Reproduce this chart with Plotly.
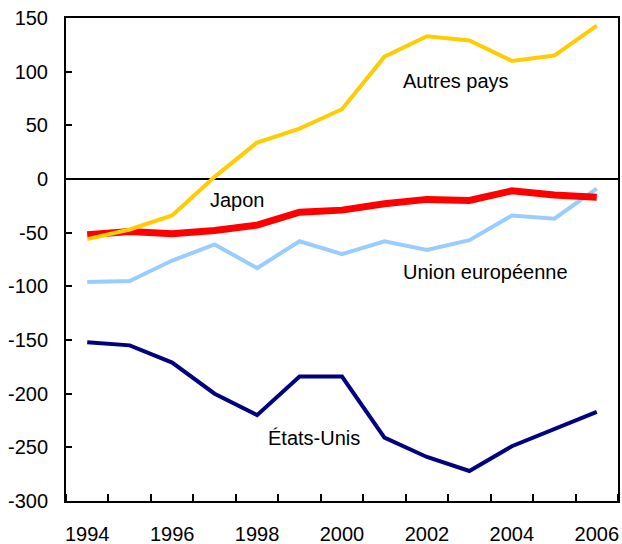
import plotly.graph_objects as go

years = list(range(1994, 2007))
autres_pays = [-56, -47, -34, 2, 34, 47, 65, 114, 133, 129, 110, 115, 143]
japon = [-52, -49, -51, -48, -43, -31, -29, -23, -19, -20, -11, -15, -17]
union_europeenne = [-96, -95, -76, -61, -83, -58, -70, -58, -66, -57, -34, -37, -9]
etats_unis = [-152, -155, -171, -200, -220, -184, -184, -241, -259, -272, -249, -233, -217]

x_tick_labels = ["1994", "1996", "1998", "2000", "2002", "2004", "2006"]
x_tick_vals = [1994, 1996, 1998, 2000, 2002, 2004, 2006]
y_tick_vals = [150, 100, 50, 0, -50, -100, -150, -200, -250, -300]
y_tick_labels = ["150", "100", "50", "0", "-50", "-100", "-150", "-200", "-250", "-300"]

FONT = "Liberation Sans, Arial, Helvetica, sans-serif"

fig = go.Figure()
fig.add_trace(go.Scatter(x=years, y=etats_unis, mode="lines",
                         line=dict(color="#000080", width=4), name="États-Unis"))
fig.add_trace(go.Scatter(x=years, y=union_europeenne, mode="lines",
                         line=dict(color="#99CCFF", width=4), name="Union européenne"))
fig.add_trace(go.Scatter(x=years, y=japon, mode="lines",
                         line=dict(color="#FF0000", width=7), name="Japon"))
fig.add_trace(go.Scatter(x=years, y=autres_pays, mode="lines",
                         line=dict(color="#FFCC00", width=4), name="Autres pays"))

annots = [
    ("Autres pays", 2002.69, 91),
    ("Japon", 1997.55, -20),
    ("Union européenne", 2003.39, -87),
    ("États-Unis", 1999.34, -241),
]
for text, ax, ay in annots:
    fig.add_annotation(x=ax, y=ay, text=text, showarrow=False,
                       font=dict(size=20, color="black", family=FONT))

fig.update_layout(
    width=622, height=544,
    margin=dict(l=66, r=4, t=18, b=43),
    paper_bgcolor="white", plot_bgcolor="white",
    showlegend=False,
    font=dict(family=FONT, size=20, color="black"),
)
fig.update_xaxes(
    range=[1993.5, 2006.5], automargin=False,
    tickmode="array", tickvals=x_tick_vals, ticktext=x_tick_labels,
    ticks="", showgrid=False, zeroline=False,
    showline=True, linecolor="black", linewidth=2, mirror=True,
    ticklabelstandoff=14,
    minor=dict(tickmode="linear", tick0=1994.5, dtick=1, ticks="inside",
               ticklen=7, tickwidth=2, tickcolor="black", showgrid=False),
)
fig.update_yaxes(
    range=[-300, 150], automargin=False,
    tickmode="array", tickvals=y_tick_vals, ticktext=y_tick_labels,
    ticks="inside", ticklen=6, tickwidth=2, tickcolor="black",
    showgrid=False, zeroline=True, zerolinecolor="black", zerolinewidth=1.5,
    showline=True, linecolor="black", linewidth=2, mirror=True,
    ticklabelstandoff=12,
)

fig.write_html("out.html", config={"displayModeBar": False},
               post_script="document.body.style.margin='0';document.body.style.padding='0';")
